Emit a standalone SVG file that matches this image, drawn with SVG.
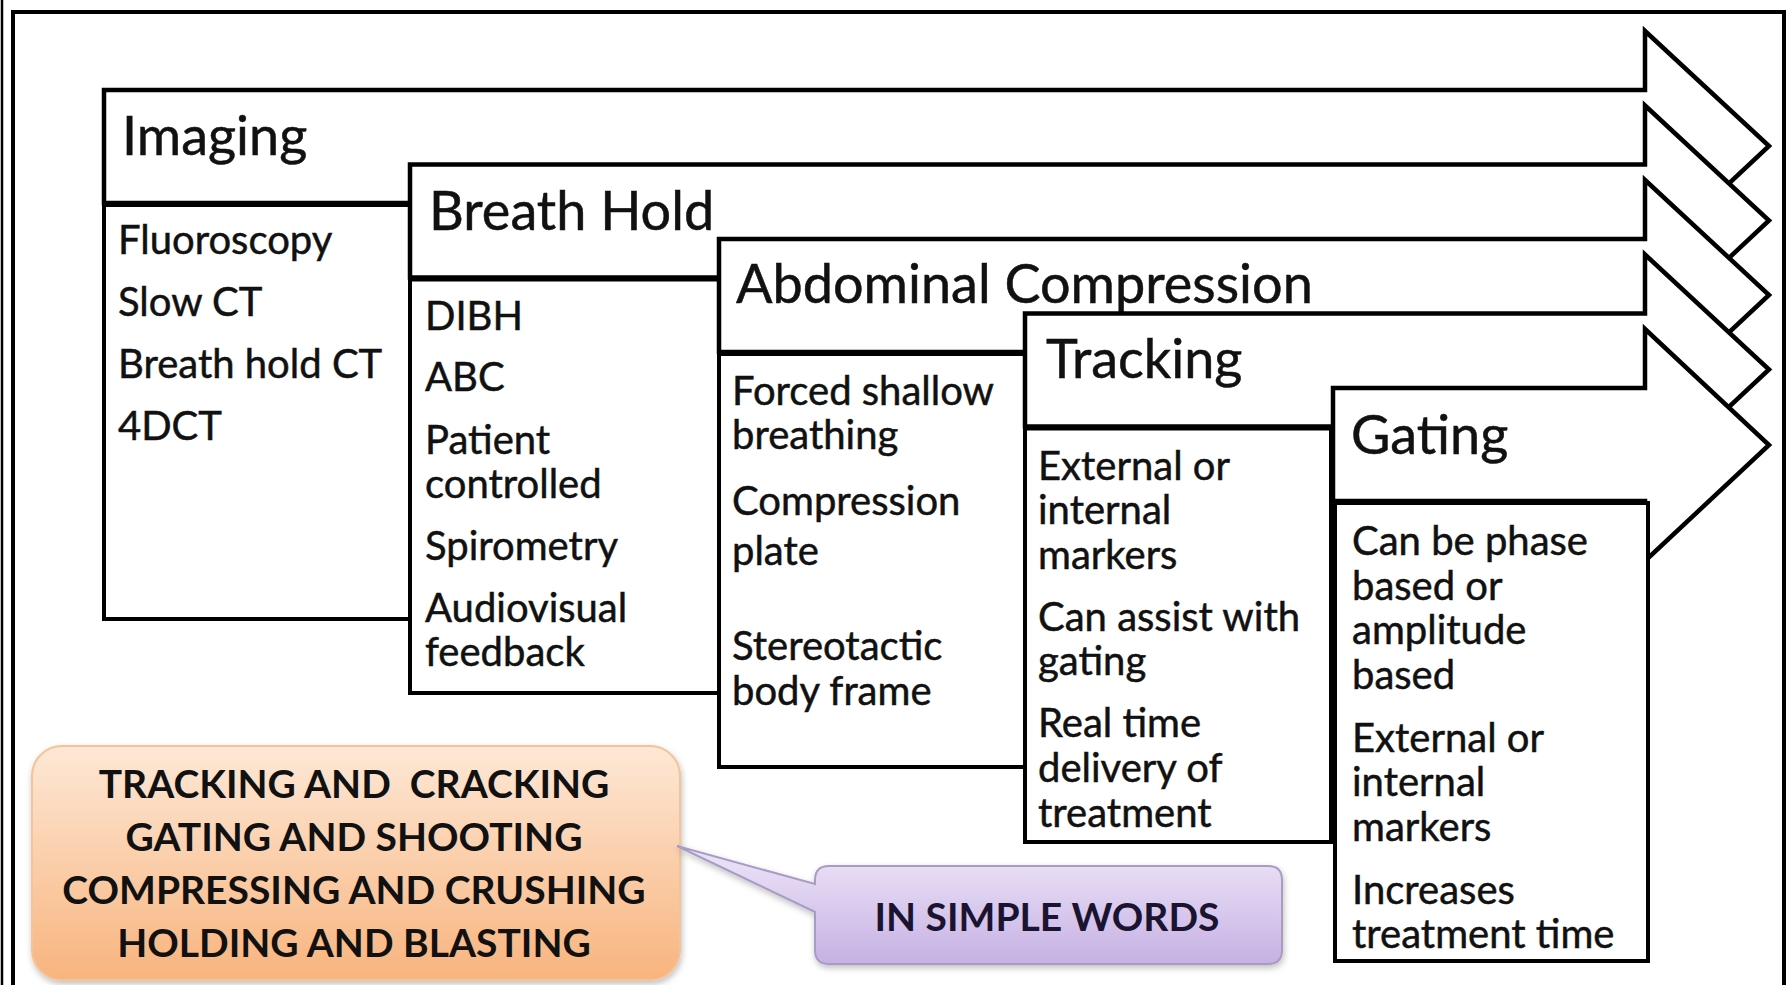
<svg xmlns="http://www.w3.org/2000/svg" width="1787" height="985" viewBox="0 0 1787 985">
<style>
.arr{fill:#fff;stroke:#000;stroke-width:4.5;stroke-linejoin:miter}
.body{fill:#fff;stroke:#000;stroke-width:4}
.hd{font-family:Lato,"Open Sans",sans-serif;font-size:54px;fill:#111;stroke:#111;stroke-width:0.5}
.tx{font-family:Lato,"Open Sans",sans-serif;font-size:40px;fill:#111;stroke:#111;stroke-width:0.5}
.cb{font-family:Lato,"Open Sans",sans-serif;font-weight:bold;font-size:39px;fill:#111;text-anchor:middle}
</style>
<defs>
<linearGradient id="gOr" x1="0" y1="0" x2="0" y2="1">
<stop offset="0" stop-color="#fde8d6"/>
<stop offset="1" stop-color="#f8b47e"/>
</linearGradient>
<linearGradient id="gPu" x1="0" y1="0" x2="0" y2="1">
<stop offset="0" stop-color="#eee6f8"/>
<stop offset="1" stop-color="#c6b1e4"/>
</linearGradient>
<filter id="sh" x="-10%" y="-10%" width="120%" height="130%">
<feDropShadow dx="1" dy="3" stdDeviation="3" flood-color="#000" flood-opacity="0.25"/>
</filter>
</defs>
<rect width="1787" height="985" fill="#fff"/>
<g id="frame">
<rect x="13" y="12" width="1771" height="1000" fill="none" stroke="#000" stroke-width="4"/>
<line x1="2" y1="0" x2="2" y2="985" stroke="#000" stroke-width="2.5"/>
</g>
<g id="imaging">
<path class="arr" d="M104,90 H1645 V31 L1769,146 L1645,262 V203 H104 Z"/>
<rect class="body" x="104" y="205" width="306" height="414"/>
<text class="hd" x="122" y="155">Imaging</text>
<text class="tx" x="118" y="254">Fluoroscopy</text>
<text class="tx" x="118" y="316">Slow CT</text>
<text class="tx" x="118" y="378">Breath hold CT</text>
<text class="tx" x="118" y="440">4DCT</text>
</g>
<g id="breath-hold">
<path class="arr" d="M410,164.5 H1645 V105.5 L1769,220.5 L1645,336.5 V277.5 H410 Z"/>
<rect class="body" x="410" y="279.5" width="309" height="413.5"/>
<text class="hd" x="429" y="230">Breath Hold</text>
<text class="tx" x="425" y="330">DIBH</text>
<text class="tx" x="425" y="391">ABC</text>
<text class="tx" x="425" y="454">Patient</text>
<text class="tx" x="425" y="498">controlled</text>
<text class="tx" x="425" y="560">Spirometry</text>
<text class="tx" x="425" y="622">Audiovisual</text>
<text class="tx" x="425" y="666">feedback</text>
</g>
<g id="abdominal-compression">
<path class="arr" d="M719,239 H1645 V180 L1769,295 L1645,411 V352 H719 Z"/>
<rect class="body" x="719" y="354" width="306" height="413"/>
<text class="hd" x="736" y="303">Abdominal Compression</text>
<text class="tx" x="732" y="405">Forced shallow</text>
<text class="tx" x="732" y="449">breathing</text>
<text class="tx" x="732" y="515">Compression</text>
<text class="tx" x="732" y="565">plate</text>
<text class="tx" x="732" y="660">Stereotactic</text>
<text class="tx" x="732" y="705">body frame</text>
</g>
<g id="tracking">
<path class="arr" d="M1025,313.5 H1645 V254.5 L1769,369.5 L1645,485.5 V426.5 H1025 Z"/>
<rect class="body" x="1025" y="428.5" width="306" height="413.5"/>
<text class="hd" x="1046" y="378">Tracking</text>
<text class="tx" x="1038" y="480">External or</text>
<text class="tx" x="1038" y="524">internal</text>
<text class="tx" x="1038" y="569">markers</text>
<text class="tx" x="1038" y="631">Can assist with</text>
<text class="tx" x="1038" y="675">gating</text>
<text class="tx" x="1038" y="737">Real time</text>
<text class="tx" x="1038" y="782">delivery of</text>
<text class="tx" x="1038" y="827">treatment</text>
</g>
<g id="gating">
<path class="arr" d="M1333,388 H1645 V329 L1769,445 L1645,561 V501 H1333 Z"/>
<rect class="body" x="1335" y="503" width="313" height="458"/>
<text class="hd" x="1351" y="454">Gating</text>
<text class="tx" x="1352" y="555">Can be phase</text>
<text class="tx" x="1352" y="600">based or</text>
<text class="tx" x="1352" y="644">amplitude</text>
<text class="tx" x="1352" y="689">based</text>
<text class="tx" x="1352" y="752">External or</text>
<text class="tx" x="1352" y="796">internal</text>
<text class="tx" x="1352" y="841">markers</text>
<text class="tx" x="1352" y="904">Increases</text>
<text class="tx" x="1352" y="948">treatment time</text>
</g>
<g id="summary-box">
<rect x="32" y="746" width="648" height="234" rx="30" fill="url(#gOr)" stroke="#f3c39a" stroke-width="2" filter="url(#sh)"/>
<text class="cb" x="354" y="798" style="white-space:pre">TRACKING AND  CRACKING</text>
<text class="cb" x="354" y="851">GATING AND SHOOTING</text>
<text class="cb" x="354" y="904">COMPRESSING AND CRUSHING</text>
<text class="cb" x="354" y="957">HOLDING AND BLASTING</text>
</g>
<g id="simple-words-callout">
<path d="M829,866 H1268 Q1282,866 1282,880 V950 Q1282,964 1268,964 H829 Q815,964 815,950 V912 L677,846 L815,884 V880 Q815,866 829,866 Z" fill="url(#gPu)" stroke="#a99cc4" stroke-width="2" filter="url(#sh)"/>
<text class="cb" x="1047" y="931" style="fill:#1b1430">IN SIMPLE WORDS</text>
</g>
</svg>
